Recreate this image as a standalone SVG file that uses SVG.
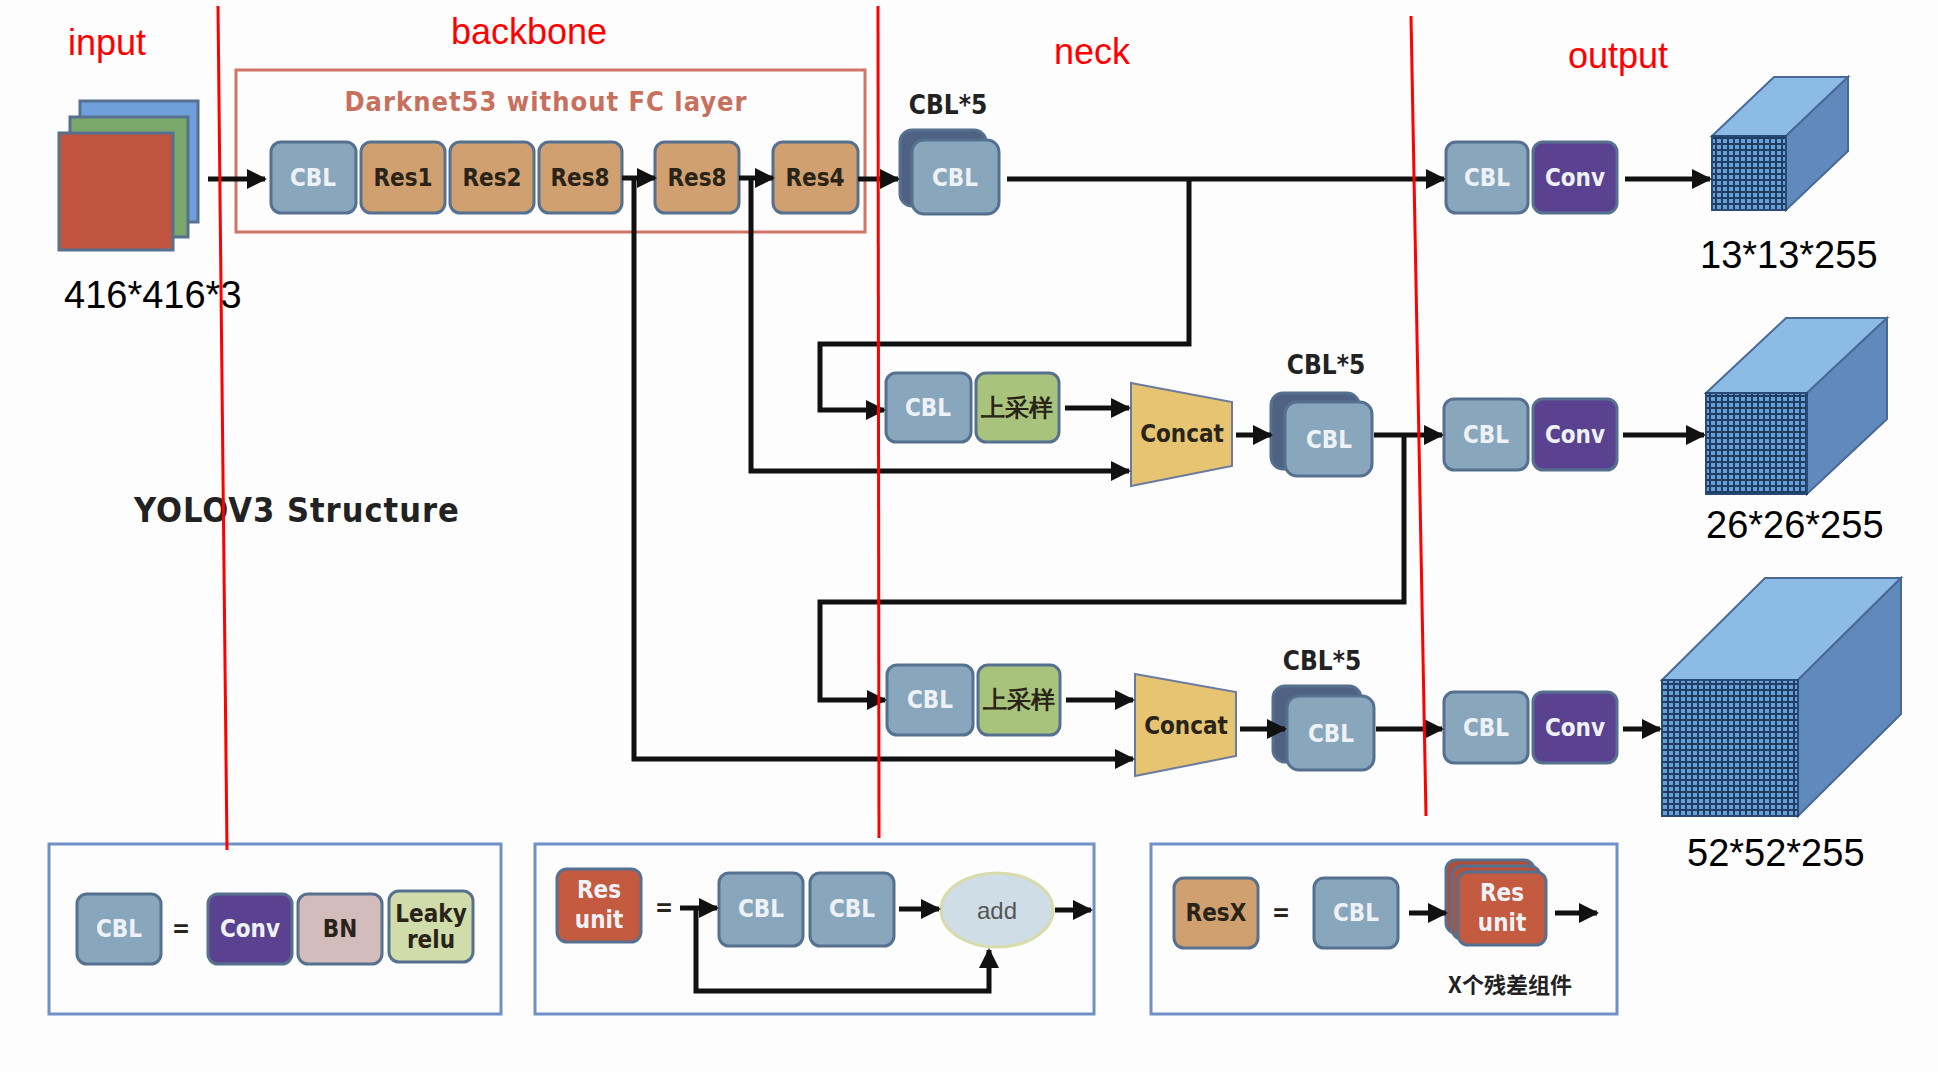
<svg xmlns="http://www.w3.org/2000/svg" width="1938" height="1072" viewBox="0 0 1938 1072">
<style>
.red{font-family:"Liberation Sans",Arial,sans-serif;font-size:36px;fill:#ff0000}
.dim{font-family:"Liberation Sans",Arial,sans-serif;font-size:38px;fill:#000}
.bx{stroke:#56708f;stroke-width:3}
.cbl{fill:#88a7bd}
.res{fill:#d0a070}
.conv{fill:#5a4290}
.lbl{font-family:"DejaVu Sans Condensed","DejaVu Sans",sans-serif;font-weight:bold;font-size:24px;text-anchor:middle;dominant-baseline:central;fill:#eef2f6}
.dk{fill:#2a2418}
.ln{fill:none;stroke:#111;stroke-width:5}
.rl{stroke:#ff0000;stroke-width:3}
.lb{fill:none;stroke:#7090c8;stroke-width:3}
</style>
<defs>
<marker id="ar" viewBox="0 0 10 10" refX="9" refY="5" markerWidth="4" markerHeight="4" orient="auto"><path d="M0,0L10,5L0,10z" fill="#111"/></marker>
<pattern id="grid" width="6" height="6" patternUnits="userSpaceOnUse"><rect width="6" height="6" fill="#1f3e66"/><rect x="1" y="1" width="4" height="4" fill="#6a9fd6"/></pattern>
</defs>
<rect width="1938" height="1072" fill="#fdfdfd"/>
<text class="red" x="68" y="55">input</text>
<text class="red" x="451" y="44">backbone</text>
<text class="red" x="1054" y="64">neck</text>
<text class="red" x="1568" y="68">output</text>

<g id="input">
<rect x="80" y="101" width="118" height="121" fill="#6fa0dc" class="bx"/>
<rect x="70" y="117" width="118" height="120" fill="#7aa86a" class="bx"/>
<rect x="59" y="133" width="114" height="117" fill="#c0543e" class="bx"/>
<text class="dim" x="64" y="308">416*416*3</text>
</g>

<g id="backbone">
<rect x="236" y="70" width="629" height="162" fill="none" stroke="#d07565" stroke-width="3"/>
<text x="546" y="101" text-anchor="middle" dominant-baseline="central" font-family="DejaVu Sans Condensed,DejaVu Sans,sans-serif" font-weight="bold" font-size="27" fill="#c8705e" letter-spacing="1">Darknet53 without FC layer</text>
<rect x="271" y="142" width="85" height="71" rx="10" class="cbl bx"/><text class="lbl" x="313" y="178">CBL</text>
<rect x="361" y="142" width="84" height="71" rx="10" class="res bx"/><text class="lbl dk" x="403" y="178">Res1</text>
<rect x="450" y="142" width="84" height="71" rx="10" class="res bx"/><text class="lbl dk" x="492" y="178">Res2</text>
<rect x="539" y="142" width="83" height="71" rx="10" class="res bx"/><text class="lbl dk" x="580" y="178">Res8</text>
<rect x="655" y="142" width="84" height="71" rx="10" class="res bx"/><text class="lbl dk" x="697" y="178">Res8</text>
<rect x="773" y="142" width="85" height="71" rx="10" class="res bx"/><text class="lbl dk" x="815" y="178">Res4</text>
</g>

<g id="title"><text x="134" y="522" font-family="DejaVu Sans Condensed,DejaVu Sans,sans-serif" font-weight="bold" font-size="34" fill="#222" letter-spacing="1">YOLOV3 Structure</text></g>

<g id="cbl5a">
<text x="948" y="105" text-anchor="middle" dominant-baseline="central" font-family="DejaVu Sans Condensed,DejaVu Sans,sans-serif" font-weight="bold" font-size="26" fill="#222">CBL*5</text>
<rect x="900" y="130" width="86" height="76" rx="12" fill="#4f6283" class="bx"/>
<rect x="912" y="140" width="87" height="74" rx="12" class="cbl bx"/><text class="lbl" x="955" y="178">CBL</text>
</g>
<g id="cbl5b">
<text x="1326" y="365" text-anchor="middle" dominant-baseline="central" font-family="DejaVu Sans Condensed,DejaVu Sans,sans-serif" font-weight="bold" font-size="26" fill="#222">CBL*5</text>
<rect x="1271" y="393" width="88" height="76" rx="12" fill="#4f6283" class="bx"/>
<rect x="1285" y="402" width="87" height="74" rx="12" class="cbl bx"/><text class="lbl" x="1329" y="440">CBL</text>
</g>
<g id="cbl5c">
<text x="1322" y="661" text-anchor="middle" dominant-baseline="central" font-family="DejaVu Sans Condensed,DejaVu Sans,sans-serif" font-weight="bold" font-size="26" fill="#222">CBL*5</text>
<rect x="1273" y="686" width="88" height="76" rx="12" fill="#4f6283" class="bx"/>
<rect x="1287" y="696" width="87" height="74" rx="12" class="cbl bx"/><text class="lbl" x="1331" y="734">CBL</text>
</g>

<g id="up2">
<rect x="886" y="373" width="85" height="69" rx="10" class="cbl bx"/><text class="lbl" x="928" y="408" font-size="20">CBL</text>
<rect x="976" y="373" width="83" height="69" rx="10" fill="#a8c47c" class="bx"/><text class="lbl dk" x="1017" y="408" font-size="20" font-family="Noto Sans CJK SC,sans-serif">上采样</text>
</g>
<g id="up3">
<rect x="887" y="665" width="86" height="70" rx="10" class="cbl bx"/><text class="lbl" x="930" y="700" font-size="20">CBL</text>
<rect x="978" y="665" width="82" height="70" rx="10" fill="#a8c47c" class="bx"/><text class="lbl dk" x="1019" y="700" font-size="20" font-family="Noto Sans CJK SC,sans-serif">上采样</text>
</g>
<g id="concat2">
<path d="M1131,383L1232,402L1232,466L1131,486z" fill="#e6c472" stroke="#6a7aa0" stroke-width="2"/>
<text class="lbl dk" x="1182" y="434" font-size="21">Concat</text>
</g>
<g id="concat3">
<path d="M1135,674L1236,692L1236,756L1135,776z" fill="#e6c472" stroke="#6a7aa0" stroke-width="2"/>
<text class="lbl dk" x="1186" y="726" font-size="21">Concat</text>
</g>

<g id="out1">
<rect x="1446" y="142" width="82" height="71" rx="10" class="cbl bx"/><text class="lbl" x="1487" y="178">CBL</text>
<rect x="1533" y="142" width="84" height="71" rx="10" class="conv bx"/><text class="lbl" x="1575" y="178">Conv</text>
</g>
<g id="out2">
<rect x="1444" y="399" width="84" height="71" rx="10" class="cbl bx"/><text class="lbl" x="1486" y="435">CBL</text>
<rect x="1533" y="399" width="84" height="71" rx="10" class="conv bx"/><text class="lbl" x="1575" y="435">Conv</text>
</g>
<g id="out3">
<rect x="1444" y="692" width="84" height="71" rx="10" class="cbl bx"/><text class="lbl" x="1486" y="728">CBL</text>
<rect x="1533" y="692" width="84" height="71" rx="10" class="conv bx"/><text class="lbl" x="1575" y="728">Conv</text>
</g>

<g id="cube1">
<path d="M1712,136L1774,77L1848,77L1786,136z" fill="#8cbce6" stroke="#4a6a96" stroke-width="2"/>
<path d="M1786,136L1848,77L1848,151L1786,210z" fill="#5f8abb" stroke="#4a6a96" stroke-width="2"/>
<rect x="1712" y="136" width="74" height="74" fill="url(#grid)" stroke="#2a4a76" stroke-width="2"/>
<text class="dim" x="1700" y="268">13*13*255</text>
</g>
<g id="cube2">
<path d="M1706,393L1786,318L1887,318L1807,393z" fill="#8cbce6" stroke="#4a6a96" stroke-width="2"/>
<path d="M1807,393L1887,318L1887,419L1807,494z" fill="#5f8abb" stroke="#4a6a96" stroke-width="2"/>
<rect x="1706" y="393" width="101" height="101" fill="url(#grid)" stroke="#2a4a76" stroke-width="2"/>
<text class="dim" x="1706" y="538">26*26*255</text>
</g>
<g id="cube3">
<path d="M1662,680L1765,578L1901,578L1798,680z" fill="#8cbce6" stroke="#4a6a96" stroke-width="2"/>
<path d="M1798,680L1901,578L1901,714L1798,816z" fill="#5f8abb" stroke="#4a6a96" stroke-width="2"/>
<rect x="1662" y="680" width="136" height="136" fill="url(#grid)" stroke="#2a4a76" stroke-width="2"/>
<text class="dim" x="1687" y="866">52*52*255</text>
</g>

<g id="legend-cbl">
<rect x="49" y="844" width="452" height="170" class="lb"/>
<rect x="77" y="894" width="84" height="70" rx="10" class="cbl bx"/><text class="lbl" x="119" y="929">CBL</text>
<text class="lbl dk" x="181" y="929" font-size="30">=</text>
<rect x="208" y="894" width="84" height="70" rx="10" class="conv bx"/><text class="lbl" x="250" y="929">Conv</text>
<rect x="298" y="894" width="84" height="70" rx="10" fill="#d4bcbc" class="bx"/><text class="lbl dk" x="340" y="929">BN</text>
<rect x="389" y="891" width="84" height="71" rx="10" fill="#d0dcaa" class="bx"/>
<text class="lbl dk" x="431" y="914" font-size="20">Leaky</text><text class="lbl dk" x="431" y="940" font-size="20">relu</text>
</g>
<g id="legend-resunit">
<rect x="535" y="844" width="559" height="170" class="lb"/>
<rect x="557" y="869" width="84" height="73" rx="10" fill="#c45a40" class="bx"/>
<text class="lbl" x="599" y="890">Res</text><text class="lbl" x="599" y="920">unit</text>
<text class="lbl dk" x="664" y="908" font-size="30">=</text>
<rect x="719" y="873" width="84" height="73" rx="10" class="cbl bx"/><text class="lbl" x="761" y="909">CBL</text>
<rect x="810" y="873" width="84" height="73" rx="10" class="cbl bx"/><text class="lbl" x="852" y="909">CBL</text>
<ellipse cx="997" cy="910" rx="56" ry="37" fill="#cfdde6" stroke="#d8dcaa" stroke-width="3"/>
<text x="997" y="910" text-anchor="middle" dominant-baseline="central" font-family="Liberation Sans,Arial,sans-serif" font-size="24" fill="#555">add</text>
</g>
<g id="legend-resx">
<rect x="1151" y="844" width="466" height="170" class="lb"/>
<rect x="1174" y="878" width="84" height="70" rx="10" class="res bx"/><text class="lbl dk" x="1216" y="913">ResX</text>
<text class="lbl dk" x="1281" y="913" font-size="30">=</text>
<rect x="1314" y="878" width="84" height="70" rx="10" class="cbl bx"/><text class="lbl" x="1356" y="913">CBL</text>
<rect x="1446" y="860" width="88" height="73" rx="10" fill="#b04c38" class="bx"/>
<rect x="1452" y="866" width="88" height="73" rx="10" fill="#b85038" class="bx"/>
<rect x="1458" y="872" width="88" height="73" rx="10" fill="#c45a40" class="bx"/>
<text class="lbl" x="1502" y="893">Res</text><text class="lbl" x="1502" y="923">unit</text>
<text x="1510" y="983" text-anchor="middle" dominant-baseline="central" font-family="Noto Sans CJK SC,sans-serif" font-weight="bold" font-size="22" fill="#222">X个残差组件</text>
</g>

<g id="connectors">
<path class="ln" d="M208,179H265" marker-end="url(#ar)"/>
<path class="ln" d="M622,178H655" marker-end="url(#ar)"/>
<path class="ln" d="M739,178H773" marker-end="url(#ar)"/>
<path class="ln" d="M858,179H898" marker-end="url(#ar)"/>
<path class="ln" d="M1007,179H1444" marker-end="url(#ar)"/>
<path class="ln" d="M1189,179V344H820V410H884" marker-end="url(#ar)"/>
<path class="ln" d="M751,178V471H1129" marker-end="url(#ar)"/>
<path class="ln" d="M634,178V759H1133" marker-end="url(#ar)"/>
<path class="ln" d="M1065,408H1129" marker-end="url(#ar)"/>
<path class="ln" d="M1236,435H1271" marker-end="url(#ar)"/>
<path class="ln" d="M1374,435H1442" marker-end="url(#ar)"/>
<path class="ln" d="M1404,435V602H820V700H885" marker-end="url(#ar)"/>
<path class="ln" d="M1066,700H1133" marker-end="url(#ar)"/>
<path class="ln" d="M1240,729H1285" marker-end="url(#ar)"/>
<path class="ln" d="M1376,729H1442" marker-end="url(#ar)"/>
<path class="ln" d="M1625,179H1710" marker-end="url(#ar)"/>
<path class="ln" d="M1623,435H1704" marker-end="url(#ar)"/>
<path class="ln" d="M1623,729H1660" marker-end="url(#ar)"/>
<path class="ln" d="M680,908H717" marker-end="url(#ar)"/>
<path class="ln" d="M696,908V991H989V950" marker-end="url(#ar)"/>
<path class="ln" d="M899,909H939" marker-end="url(#ar)"/>
<path class="ln" d="M1055,910H1091" marker-end="url(#ar)"/>
<path class="ln" d="M1409,913H1446" marker-end="url(#ar)"/>
<path class="ln" d="M1555,913H1597" marker-end="url(#ar)"/>
</g>
<g id="dividers">
<line class="rl" x1="218" y1="6" x2="227" y2="850"/>
<line class="rl" x1="878" y1="6" x2="879" y2="838"/>
<line class="rl" x1="1411" y1="16" x2="1426" y2="816"/>
</g>
</svg>
